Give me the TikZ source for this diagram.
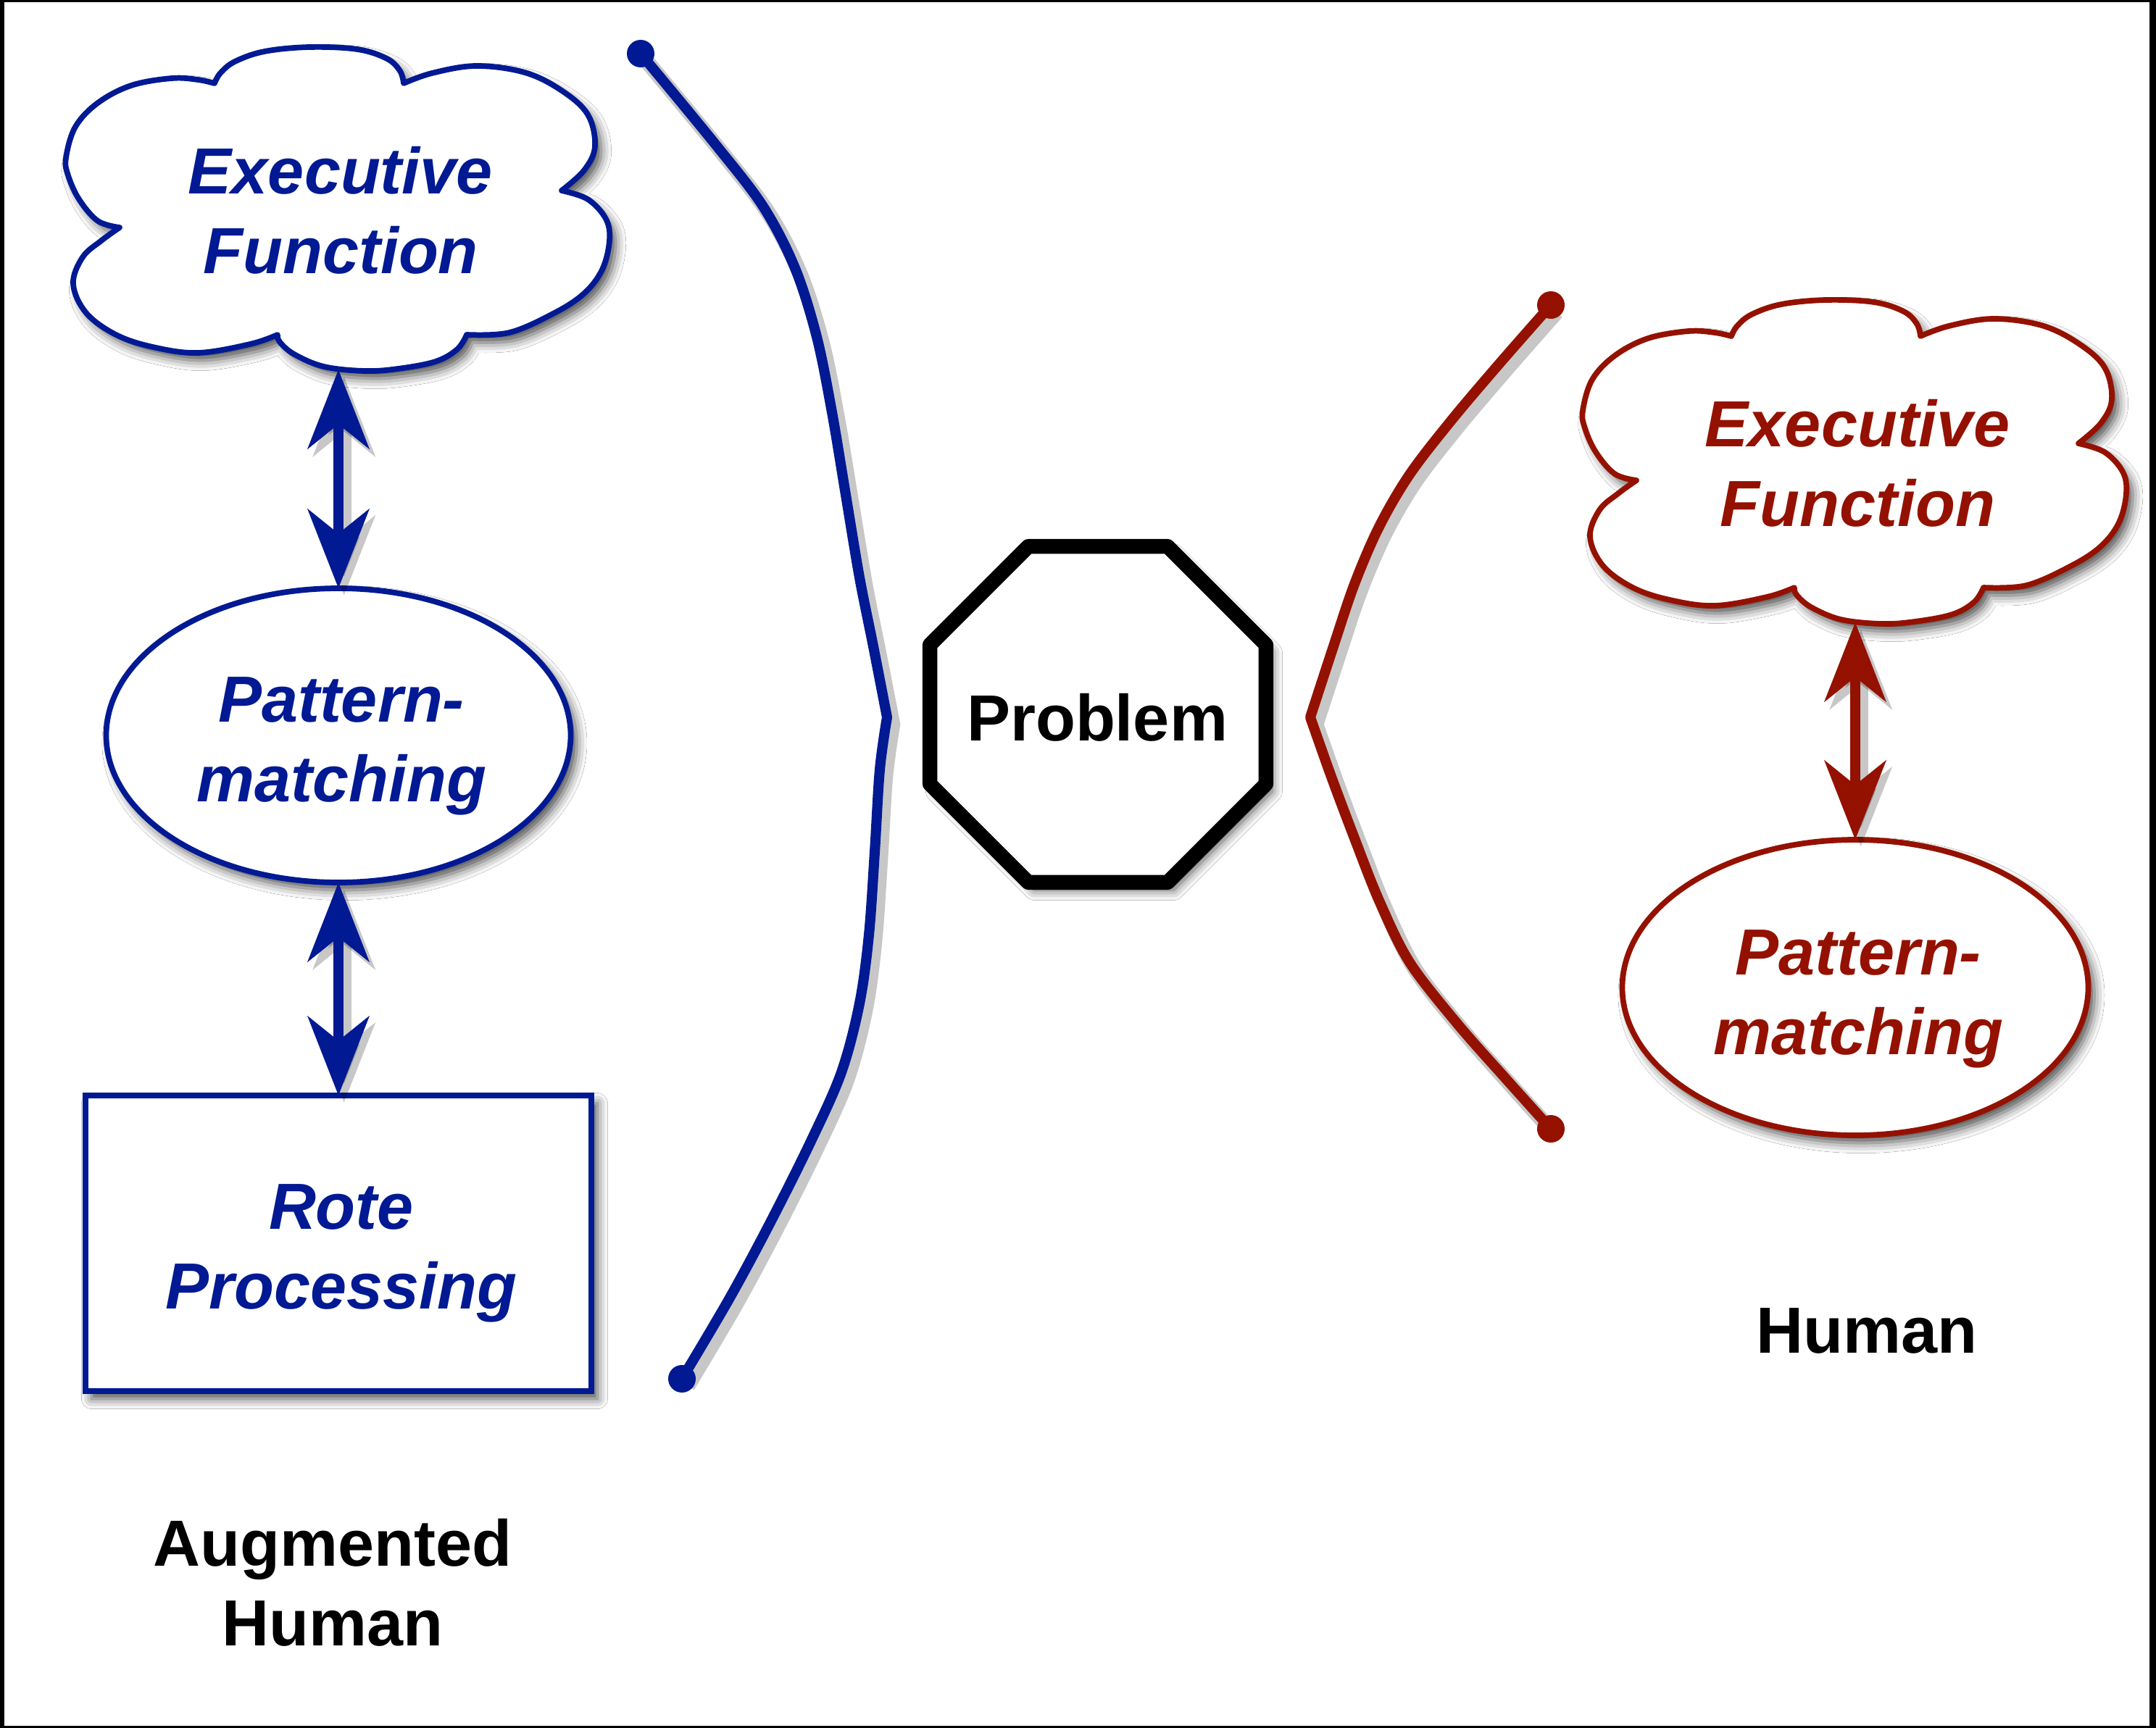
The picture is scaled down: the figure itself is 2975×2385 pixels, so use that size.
\documentclass[tikz,border=0pt]{standalone}
\usepackage{fontspec}
\setmainfont{Liberation Sans}
\usetikzlibrary{shapes.geometric,arrows.meta,shadows.blur}
\definecolor{cobalt}{RGB}{1,25,147}
\definecolor{cayenne}{RGB}{148,17,0}
\begin{document}
\begin{tikzpicture}[x=0.1mm,y=-0.1mm,
  shsoft/.style={blur shadow={shadow xshift=2.4pt, shadow yshift=-3pt, shadow blur radius=4pt, shadow opacity=70}},
  lshadow/.style={preaction={draw=black, opacity=0.22, line width=6pt, transform canvas={shift={(2.2pt,-2.8pt)}}}},
  itl/.style={font=\fontsize{25.6}{31.3}\selectfont\bfseries\itshape, align=center, text=#1},
  blk/.style={font=\fontsize{25.6}{31.3}\selectfont\bfseries, align=center, text=black},
  outl/.style={draw=#1, line width=2.2pt, fill=white, shsoft},
  dbl/.style={draw=#1, line width=4.2pt, lshadow,
     {Stealth[length=31pt,width=24pt,inset=9.5pt]}-{Stealth[length=31pt,width=24pt,inset=9.5pt]}},
  brk/.style={draw=#1, line width=4pt, line join=round, line cap=round, lshadow}
]
\useasboundingbox (0,0) rectangle (2975,2385);
% frame
\fill[black] (0,0) rectangle (2975,2385);
\fill[white] (6,3) rectangle (2966,2382);

% ---------- left (blue) cloud ----------
\path[outl=cobalt, line join=round]
 plot[smooth, tension=0.6] coordinates {(296,115) (304,101) (324,85) (365,71) (427,65) (493,68) (534,81) (552,98) (557,115)}
 -- plot[smooth, tension=0.6] coordinates {(557,115) (596,101) (657,91) (724,100) (775,125) (811,158) (821,202) (806,235) (775,263)}
 -- plot[smooth, tension=0.6] coordinates {(775,263) (811,275) (836,302) (841,332) (831,372) (806,405) (765,432) (703,459) (644,462)}
 -- plot[smooth, tension=0.6] coordinates {(644,462) (631,482) (601,499) (549,509) (503,512) (447,506) (406,489) (386,472) (383,462)}
 -- plot[smooth, tension=0.6] coordinates {(383,462) (345,475) (273,487) (211,479) (160,462) (119,432) (101,392) (114,355) (140,332) (165,314)}
 -- plot[smooth, tension=0.6] coordinates {(165,314) (135,305) (109,275) (94,242) (91,218) (104,175) (135,142) (181,118) (237,108) (273,110) (296,115)}
 -- cycle;
\node[itl=cobalt] (efB) at (470,290) {Executive\\Function};
\coordinate (efBbot) at (467,510);

% ---------- right (red) cloud ----------
\begin{scope}[shift={(2093,349)}]
\path[outl=cayenne, line join=round]
 plot[smooth, tension=0.6] coordinates {(296,115) (304,101) (324,85) (365,71) (427,65) (493,68) (534,81) (552,98) (557,115)}
 -- plot[smooth, tension=0.6] coordinates {(557,115) (596,101) (657,91) (724,100) (775,125) (811,158) (821,202) (806,235) (775,263)}
 -- plot[smooth, tension=0.6] coordinates {(775,263) (811,275) (836,302) (841,332) (831,372) (806,405) (765,432) (703,459) (644,462)}
 -- plot[smooth, tension=0.6] coordinates {(644,462) (631,482) (601,499) (549,509) (503,512) (447,506) (406,489) (386,472) (383,462)}
 -- plot[smooth, tension=0.6] coordinates {(383,462) (345,475) (273,487) (211,479) (160,462) (119,432) (101,392) (114,355) (140,332) (165,314)}
 -- plot[smooth, tension=0.6] coordinates {(165,314) (135,305) (109,275) (94,242) (91,218) (104,175) (135,142) (181,118) (237,108) (273,110) (296,115)}
 -- cycle;
\node[itl=cayenne] (efR) at (470,290) {Executive\\Function};
\coordinate (efRbot) at (467,510);
\end{scope}

% ---------- ellipses and box ----------
\node[ellipse, outl=cobalt, minimum width=64.1mm, minimum height=40.6mm, inner sep=0pt, outer sep=0pt] (pmB) at (467,1015) {};
\node[itl=cobalt] (pmBt) at (471,1030) {Pattern-\\matching};
\node[rectangle, outl=cobalt, minimum width=69.8mm, minimum height=40.8mm, inner sep=0pt, outer sep=0pt] (rpB) at (467,1716) {};
\node[itl=cobalt] (rpBt) at (471,1730) {Rote\\Processing};
\node[ellipse, outl=cayenne, minimum width=64.3mm, minimum height=40.8mm, inner sep=0pt, outer sep=0pt] (pmR) at (2560,1363) {};
\node[itl=cayenne] (pmRt) at (2564,1379) {Pattern-\\matching};

% ---------- double arrows ----------
\draw[dbl=cobalt] (efBbot) -- (pmB.north);
\draw[dbl=cobalt] (pmB.south) -- (rpB.north);
\draw[dbl=cayenne] (efRbot) -- (pmR.north);

% ---------- problem octagon ----------
\node[regular polygon, regular polygon sides=8, minimum size=50.2mm, inner sep=0pt, outer sep=0pt,
      draw=black, line width=5.8pt, line join=round, fill=white, shsoft] (prob) at (1515,986) {};
\node[blk] (probt) at (1514,990) {Problem};

% ---------- brackets ----------
\coordinate (bT) at (884,74);
\coordinate (bA) at (1224,990);
\coordinate (bB) at (941,1903);
\draw[brk=cobalt]
  plot[smooth, tension=0.55] coordinates {(bT) (987,199) (1053,285) (1097,370) (1127,465) (1148,569) (1167,683) (1186,797) (1205,892) (bA)}
  -- plot[smooth, tension=0.55] coordinates {(bA) (1214,1062) (1207,1176) (1199,1290) (1186,1385) (1161,1480) (1119,1575) (1062,1689) (1006,1793) (bB)};
\fill[cobalt] (bT) circle[radius=19];
\fill[cobalt] (bB) circle[radius=19];

\coordinate (rT) at (2140,421);
\coordinate (rA) at (1808,990);
\coordinate (rB) at (2140,1558);
\draw[brk=cayenne]
  plot[smooth, tension=0.55] coordinates {(rT) (2068,503) (2002,581) (1945,655) (1903,727) (1869,806) (1840,892) (rA)}
  -- plot[smooth, tension=0.55] coordinates {(rA) (1837,1072) (1869,1157) (1903,1243) (1945,1328) (2011,1413) (2078,1489) (rB)};
\fill[cayenne] (rT) circle[radius=19];
\fill[cayenne] (rB) circle[radius=19];

% ---------- labels ----------
\node[blk] (augL) at (459,2184) {Augmented\\Human};
\node[blk] (humL) at (2576,1837) {Human};
\end{tikzpicture}
\end{document}
